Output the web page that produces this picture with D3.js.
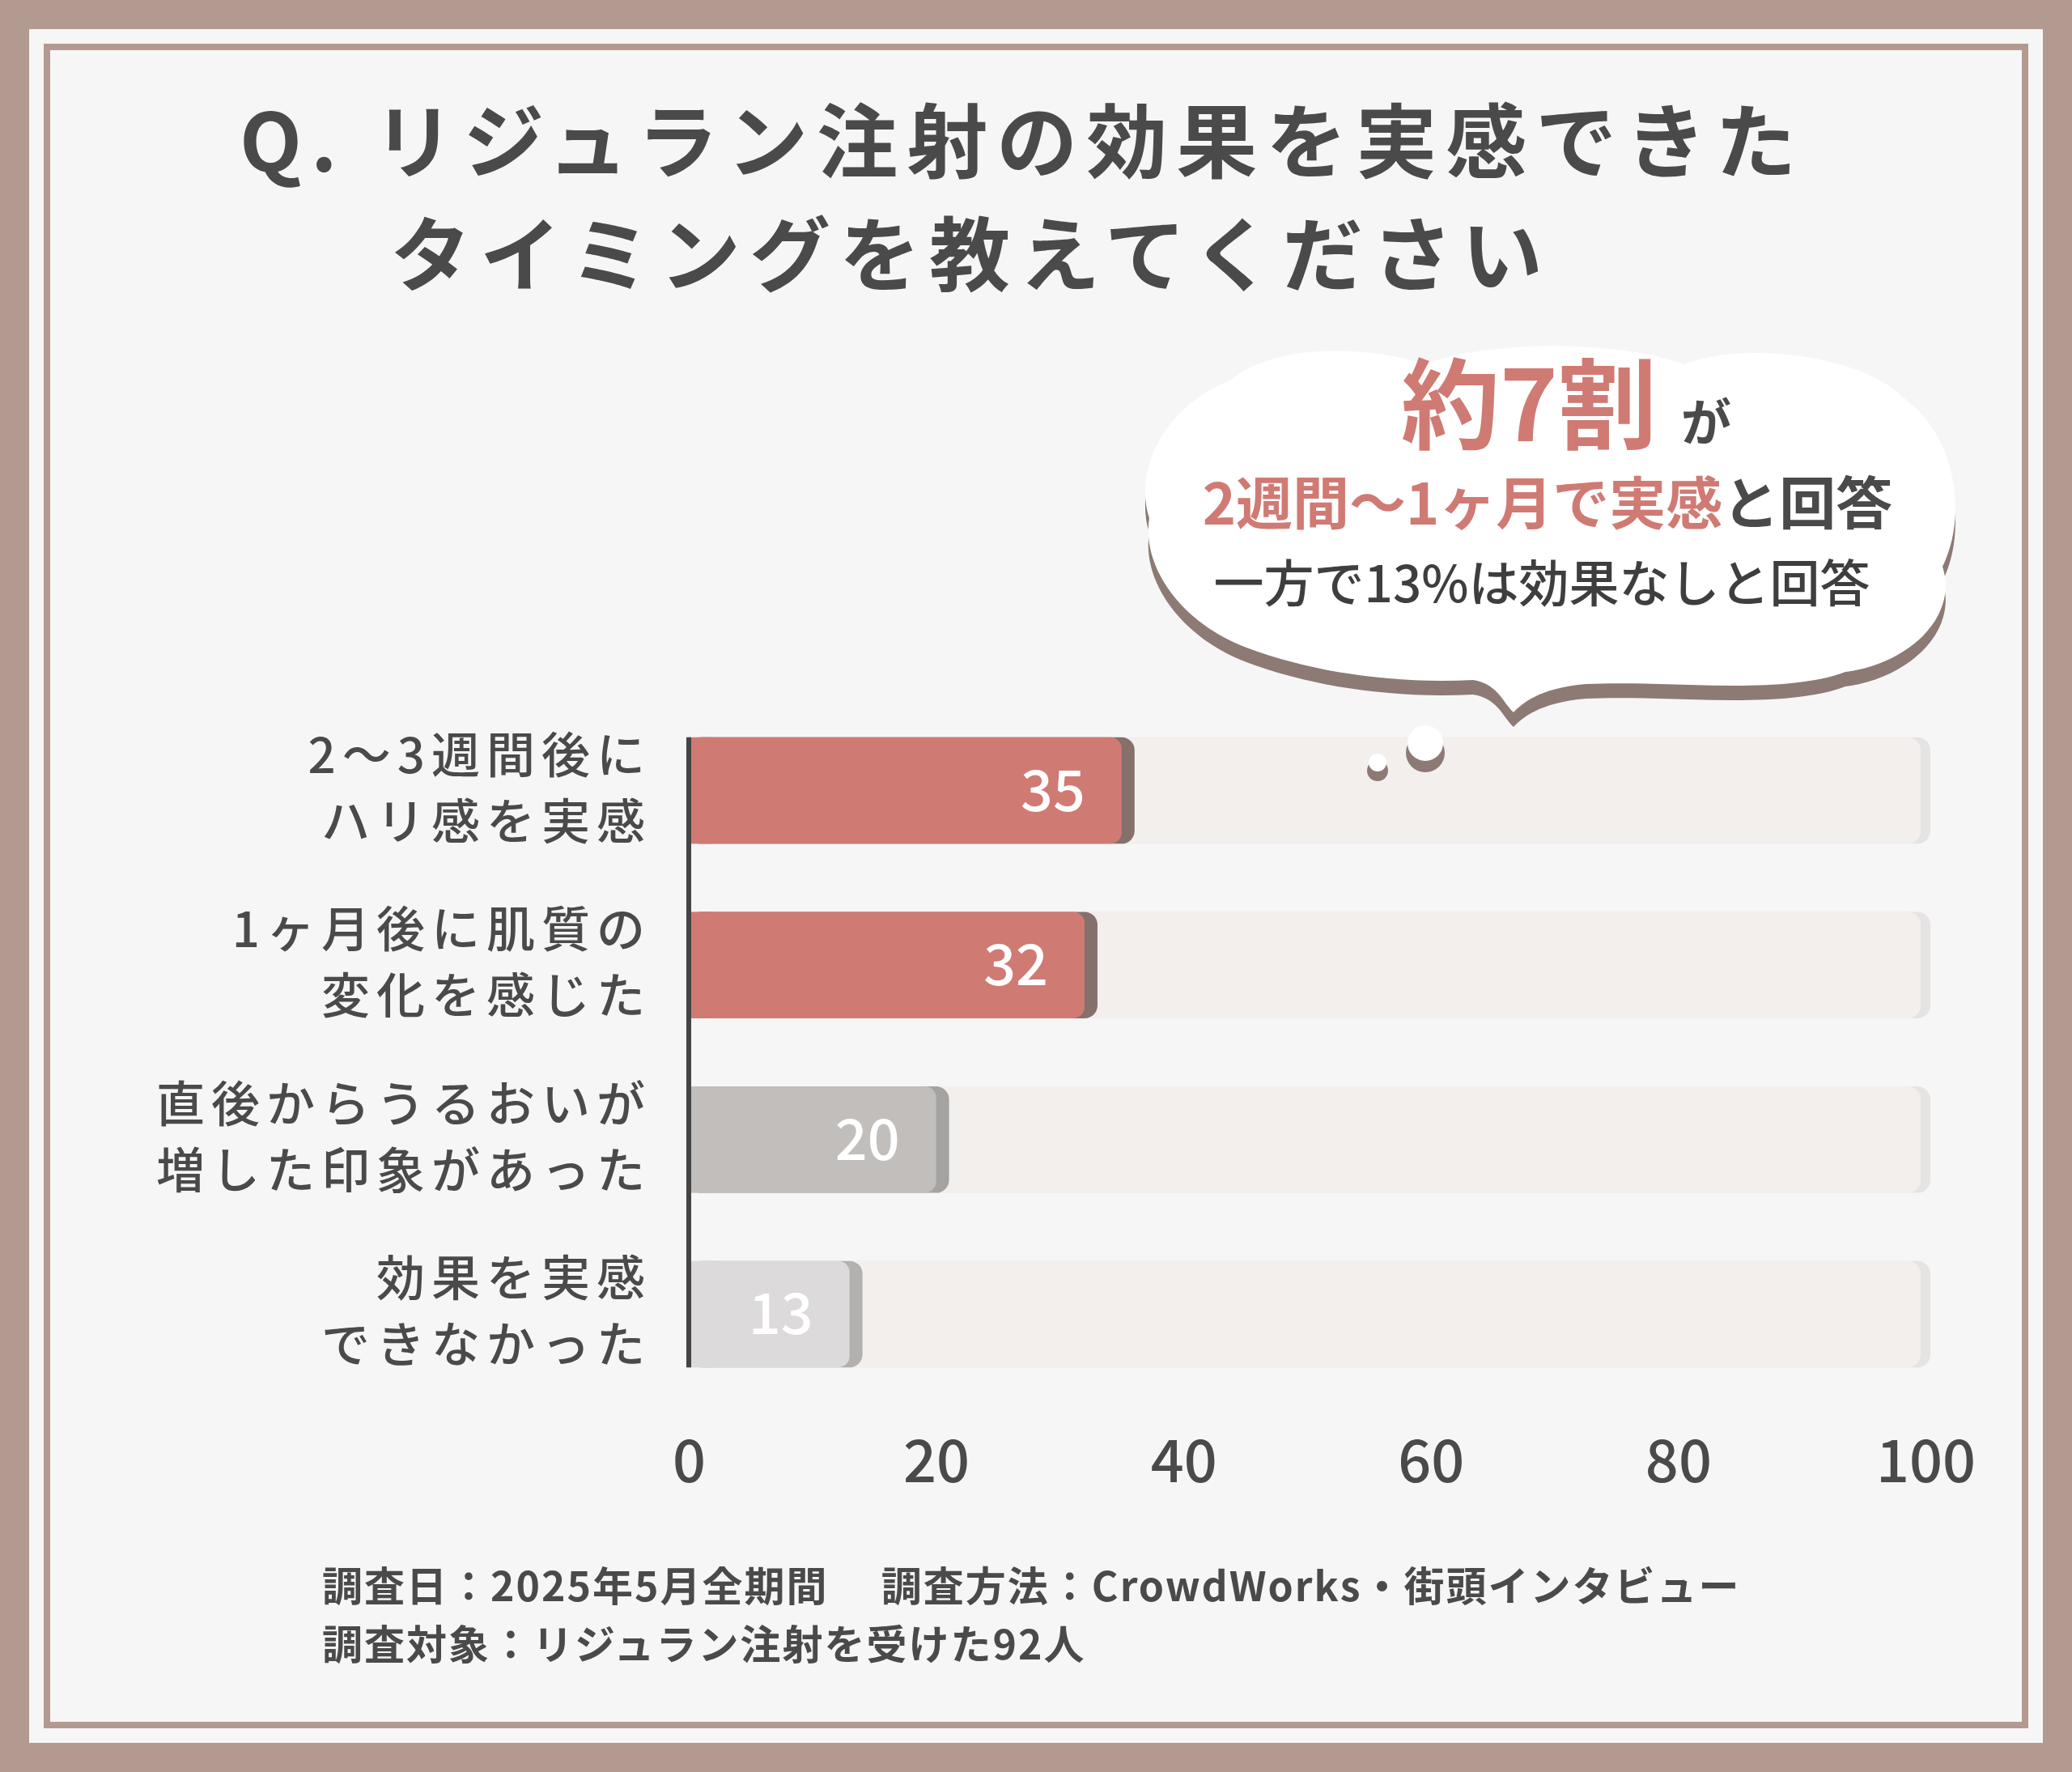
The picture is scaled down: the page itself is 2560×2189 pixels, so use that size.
<!DOCTYPE html>
<html>
<head>
<meta charset="UTF-8" />
<script src="https://cdn.jsdelivr.net/npm/d3@7"></script>
<style>
  body { margin: 0; background: #b39a90; }
  text { font-family: "Noto Sans CJK JP", sans-serif; }
</style>
</head>
<body>
<script>
  // data
  var categories = [
    ["2〜3週間後に", "ハリ感を実感"],
    ["1ヶ月後に肌質の", "変化を感じた"],
    ["直後からうるおいが", "増した印象があった"],
    ["効果を実感", "できなかった"]
  ];
  var values = [35, 32, 20, 13];
  var ticks = [0, 20, 40, 60, 80, 100];
  var barColors = ["#d07a74", "#d07a74", "#c1bebc", "#dcdada"];
  var shadowColors = ["#85706b", "#85706b", "#a5a3a1", "#b3b1af"];

  var W = 2560, H = 2189;
  var svg = d3.select("body").append("svg")
    .attr("width", W).attr("height", H);

  // frame
  svg.append("rect").attr("x", 0).attr("y", 0).attr("width", W).attr("height", H).attr("fill", "#b39a90");
  svg.append("rect").attr("x", 36).attr("y", 36).attr("width", W - 72).attr("height", H - 72).attr("fill", "#f7f6f6");
  svg.append("rect").attr("x", 58).attr("y", 58).attr("width", W - 116).attr("height", H - 116)
    .attr("fill", "none").attr("stroke", "#b39a90").attr("stroke-width", 8);

  // title
  svg.append("text").attr("fill", "#4a4a4a").attr("font-size", 100).attr("font-weight", 700)
    .attr("letter-spacing", 11).attr("x", 296).attr("y", 212).text("Q. リジュラン注射の効果を実感できた");
  svg.append("text").attr("fill", "#4a4a4a").attr("font-size", 100).attr("font-weight", 700)
    .attr("letter-spacing", 11).attr("x", 482).attr("y", 352).text("タイミングを教えてください");

  // scales
  var x = d3.scaleLinear().domain([0, 100]).range([851, 2379]);
  var y = d3.scaleBand().domain(d3.range(categories.length)).range([900, 1700]).paddingInner(0.39).paddingOuter(0.05);

  var g = svg.append("g");
  var bh = y.bandwidth();

  // background tracks
  g.selectAll("rect.trackS").data(values).enter().append("rect")
    .attr("x", x(0)).attr("y", function (d, i) { return y(i); })
    .attr("width", x(100) - x(0) + 6).attr("height", bh).attr("rx", 16)
    .attr("fill", "#e6e4e3");
  g.selectAll("rect.track").data(values).enter().append("rect")
    .attr("x", x(0)).attr("y", function (d, i) { return y(i); })
    .attr("width", x(100) - x(0) - 6).attr("height", bh).attr("rx", 16)
    .attr("fill", "#f3efed");

  // bars: shadow then face
  g.selectAll("rect.barS").data(values).enter().append("rect")
    .attr("x", x(0)).attr("y", function (d, i) { return y(i); })
    .attr("width", function (d) { return x(d) - x(0) + 16; }).attr("height", bh).attr("rx", 16)
    .attr("fill", function (d, i) { return shadowColors[i]; });
  g.selectAll("rect.bar").data(values).enter().append("rect")
    .attr("x", x(0)).attr("y", function (d, i) { return y(i); })
    .attr("width", function (d) { return x(d) - x(0); }).attr("height", bh).attr("rx", 14)
    .attr("fill", function (d, i) { return barColors[i]; });
  g.selectAll("rect.barFlat").data(values).enter().append("rect")
    .attr("x", x(0)).attr("y", function (d, i) { return y(i); })
    .attr("width", 30).attr("height", bh)
    .attr("fill", function (d, i) { return barColors[i]; });

  // value labels
  g.selectAll("text.val").data(values).enter().append("text")
    .attr("x", function (d) { return x(d) - 45; })
    .attr("y", function (d, i) { return y(i) + bh / 2 + 25; })
    .attr("text-anchor", "end").attr("fill", "#fff").attr("font-size", 70).attr("font-weight", 500)
    .text(function (d) { return d; });

  // axis line
  g.append("line").attr("x1", x(0)).attr("x2", x(0))
    .attr("y1", y(0)).attr("y2", y(3) + bh)
    .attr("stroke", "#444").attr("stroke-width", 6);

  // category labels
  categories.forEach(function (c, i) {
    var t = g.append("text").attr("text-anchor", "end").attr("fill", "#4a4a4a")
      .attr("font-size", 60).attr("font-weight", 500).attr("letter-spacing", 8);
    t.append("tspan").attr("x", 805).attr("y", y(i) + bh / 2 - 22).text(c[0]);
    t.append("tspan").attr("x", 805).attr("y", y(i) + bh / 2 + 60).text(c[1]);
  });

  // x axis tick labels
  var axis = d3.axisBottom(x).tickValues(ticks).tickSize(0).tickPadding(0);
  var ax = svg.append("g").attr("transform", "translate(0,1780)").call(axis);
  ax.select(".domain").remove();
  ax.selectAll("text").attr("font-size", 72).attr("fill", "#4a4a4a").attr("font-weight", 500)
    .style("font-family", "'Noto Sans CJK JP', sans-serif");

  // speech bubble
  var bubble = "M1520,470 C1580,420 1700,430 1760,450 C1840,420 2000,420 2080,450 C2160,420 2300,440 2350,490 " +
    "C2420,540 2430,640 2400,700 C2420,760 2360,820 2280,830 C2200,860 2060,840 1960,845 " +
    "C1900,850 1880,870 1870,880 C1855,865 1850,845 1820,840 C1720,845 1620,830 1540,800 " +
    "C1460,770 1410,700 1420,640 C1400,580 1440,500 1520,470 Z";
  svg.append("path").attr("d", bubble).attr("fill", "#8d7a74").attr("transform", "translate(0,18)");
  svg.append("path").attr("d", bubble).attr("fill", "#ffffff");
  svg.append("circle").attr("cx", 1761).attr("cy", 930).attr("r", 24).attr("fill", "#8d7a74");
  svg.append("circle").attr("cx", 1761).attr("cy", 918).attr("r", 22).attr("fill", "#fff");
  svg.append("circle").attr("cx", 1702).attr("cy", 952).attr("r", 13).attr("fill", "#8d7a74");
  svg.append("circle").attr("cx", 1702).attr("cy", 942).attr("r", 11).attr("fill", "#fff");

  var b1 = svg.append("text").attr("x", 1935).attr("y", 545).attr("text-anchor", "middle").attr("font-weight", 700);
  b1.append("tspan").attr("fill", "#d07a74").attr("font-size", 122).text("約7割");
  b1.append("tspan").attr("fill", "#4a4a4a").attr("font-size", 62).attr("dx", 30).text("が");

  var b2 = svg.append("text").attr("x", 1912).attr("y", 648).attr("text-anchor", "middle")
    .attr("font-weight", 700).attr("font-size", 70);
  b2.append("tspan").attr("fill", "#d07a74").text("2週間〜1ヶ月で実感");
  b2.append("tspan").attr("fill", "#4a4a4a").text("と回答");

  svg.append("text").attr("x", 1905).attr("y", 744).attr("text-anchor", "middle")
    .attr("font-weight", 500).attr("font-size", 62).attr("fill", "#3e3e3e").text("一方で13%は効果なしと回答");

  // footer
  svg.append("text").attr("fill", "#4a4a4a").attr("font-size", 50).attr("font-weight", 700)
    .attr("letter-spacing", 2).attr("x", 398).attr("y", 1978)
    .text("調査日：2025年5月全期間　 調査方法：CrowdWorks・街頭インタビュー");
  svg.append("text").attr("fill", "#4a4a4a").attr("font-size", 50).attr("font-weight", 700)
    .attr("letter-spacing", 2).attr("x", 398).attr("y", 2050)
    .text("調査対象：リジュラン注射を受けた92人");
</script>
</body>
</html>
